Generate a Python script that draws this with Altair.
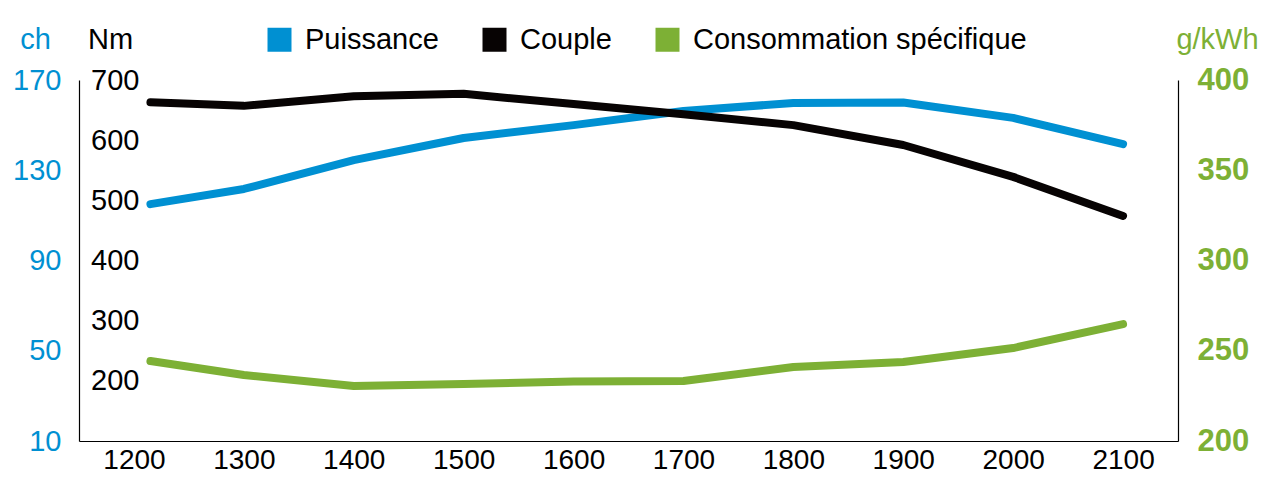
import altair as alt
import pandas as pd

# --- data ---
rpm = [1215, 1300, 1400, 1500, 1600, 1700, 1800, 1900, 2000, 2100]
puissance_ch = [115.0, 121.7, 134.5, 144.3, 150.0, 156.3, 159.8, 160.0, 153.2, 141.6]
couple_nm = [663, 657, 673, 677, 660, 643, 625, 592, 539, 474]
conso_gkwh = [244.3, 236.6, 230.5, 231.6, 233.0, 233.2, 241.0, 243.8, 251.5, 264.8]

series = ["Puissance", "Couple", "Consommation spécifique"]
colors = ["#0090D2", "#070303", "#7DB035"]

x_ticks = [1200, 1300, 1400, 1500, 1600, 1700, 1800, 1900, 2000, 2100]
ch_ticks = [10, 50, 90, 130, 170]
nm_ticks = [200, 300, 400, 500, 600, 700]
g_ticks = [200, 250, 300, 350, 400]

FONT = "Liberation Sans, Arial, sans-serif"

rows = []
for s, vals in zip(series, [puissance_ch, couple_nm, conso_gkwh]):
    for r, v in zip(rpm, vals):
        rows.append({"rpm": r, "val": v, "serie": s})
df = pd.DataFrame(rows)

xenc = alt.X("rpm:Q", scale=alt.Scale(domain=[1150, 2150], nice=False, zero=False),
             axis=alt.Axis(values=x_ticks, title=None, grid=False, ticks=False,
                           domainColor="black", domainWidth=1.2, labelFont=FONT,
                           labelFontSize=28, labelColor="black", labelPadding=5,
                           format="d", labelFlush=False))

color = alt.Color("serie:N", scale=alt.Scale(domain=series, range=colors),
                  legend=alt.Legend(title=None, orient="none", legendX=186, legendY=-55,
                                    direction="horizontal", symbolType="square",
                                    symbolSize=144, symbolStrokeWidth=12,
                                    labelFont=FONT, labelFontSize=29, labelColor="black",
                                    labelOffset=11, columnPadding=25, labelLimit=600))

base = alt.Chart(df).mark_line(strokeWidth=8, strokeCap="round", strokeJoin="round")

l1 = base.transform_filter(alt.datum.serie == "Puissance").encode(
    x=xenc,
    y=alt.Y("val:Q", scale=alt.Scale(domain=[10, 170], nice=False, zero=False),
            axis=alt.Axis(orient="left", values=ch_ticks, grid=False, ticks=False,
                          domainColor="black", domainWidth=1.2, labelFont=FONT,
                          labelFontSize=29, labelColor="#0090D2", labelPadding=18,
                          title="ch", titleAngle=0, titleFont=FONT, titleFontSize=29,
                          titleFontWeight="normal", titleColor="#0090D2",
                          titleX=-44, titleY=-41, titleAlign="center",
                          titleBaseline="middle")),
    color=color,
)

l2 = base.transform_filter(alt.datum.serie == "Couple").encode(
    x=xenc,
    y=alt.Y("val:Q", scale=alt.Scale(domain=[100, 700], nice=False, zero=False),
            axis=alt.Axis(orient="left", offset=-62, values=nm_ticks, grid=False,
                          ticks=False, domain=False, labelFont=FONT, labelFontSize=29,
                          labelColor="black", labelPadding=2,
                          title="Nm", titleAngle=0, titleFont=FONT, titleFontSize=29,
                          titleFontWeight="normal", titleColor="black",
                          titleX=-31, titleY=-41, titleAlign="center",
                          titleBaseline="middle")),
    color=color,
)

l3 = base.transform_filter(alt.datum.serie == "Consommation spécifique").encode(
    x=xenc,
    y=alt.Y("val:Q", scale=alt.Scale(domain=[200, 400], nice=False, zero=False),
            axis=alt.Axis(orient="right", values=g_ticks, grid=False, ticks=False,
                          domainColor="black", domainWidth=1.2, labelFont=FONT,
                          labelFontSize=31, labelFontWeight="bold", labelColor="#7DB035",
                          labelPadding=19,
                          title="g/kWh", titleAngle=0, titleFont=FONT, titleFontSize=29,
                          titleFontWeight="normal", titleColor="#7DB035",
                          titleX=39, titleY=-41, titleAlign="center",
                          titleBaseline="middle")),
    color=color,
)

chart = alt.layer(l1, l2, l3).resolve_scale(y="independent").properties(
    width=1099, height=361,
    autosize=alt.AutoSizeParams(type="none"),
    padding={"left": 79, "top": 80, "right": 96, "bottom": 53},
    view=alt.ViewBackground(stroke="transparent", strokeWidth=0, strokeOpacity=0),
).configure_view(stroke="transparent", strokeWidth=0, strokeOpacity=0).configure_axis(
    grid=False
).configure(background="white")

chart.save("out.html", embed_options={"renderer": "svg", "actions": False})
